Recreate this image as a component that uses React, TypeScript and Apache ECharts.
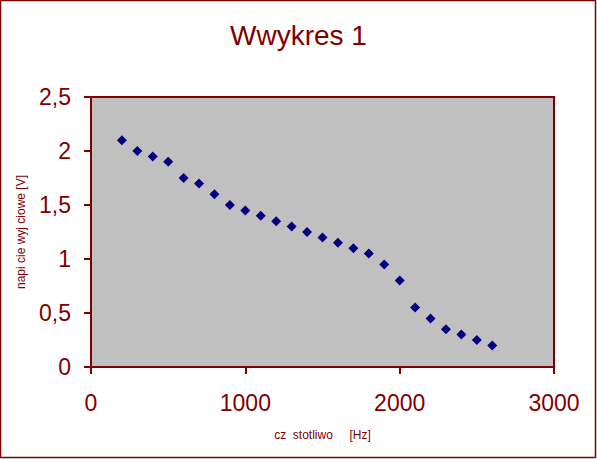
import React, { useEffect, useRef } from 'react';
import * as echarts from 'echarts';

const frequencies = [
  200, 300, 400, 500, 600, 700, 800, 900, 1000, 1100, 1200, 1300, 1400,
  1500, 1600, 1700, 1800, 1900, 2000, 2100, 2200, 2300, 2400, 2500, 2600,
];
const voltages = [
  2.1, 2.0, 1.95, 1.9, 1.75, 1.7, 1.6, 1.5, 1.45, 1.4, 1.35, 1.3, 1.25,
  1.2, 1.15, 1.1, 1.05, 0.95, 0.8, 0.55, 0.45, 0.35, 0.3, 0.25, 0.2,
];

const chartTitle = 'Wwykres 1';
const xAxisName = 'cz  stotliwo     [Hz]';
const yAxisName = 'napi cie wyj ciowe [V]';

const darkRed = '#800000';
const font = 'Liberation Sans, Arial, sans-serif';

export default function App() {
  const chartRef = useRef<HTMLDivElement>(null);

  useEffect(() => {
    document.body.style.margin = '0';
    if (!chartRef.current) return;
    const chart = echarts.init(chartRef.current, null, { renderer: 'svg' });

    chart.setOption({
      animation: false,
      backgroundColor: '#ffffff',
      textStyle: { fontFamily: font },
      title: {
        text: chartTitle,
        left: 'center',
        top: 16,
        textStyle: { color: darkRed, fontSize: 28, fontWeight: 'normal', fontFamily: font },
      },
      grid: {
        left: 91,
        right: 43,
        top: 97,
        bottom: 92,
        show: true,
        backgroundColor: '#c0c0c0',
        borderColor: darkRed,
        borderWidth: 2,
      },
      xAxis: {
        type: 'value',
        min: 0,
        max: 3000,
        interval: 1000,
        name: xAxisName,
        nameLocation: 'middle',
        nameGap: 62,
        nameTextStyle: { color: darkRed, fontSize: 12, fontFamily: font },
        axisLine: { show: true, lineStyle: { color: darkRed, width: 2 } },
        axisTick: { show: true, length: 7, lineStyle: { color: darkRed, width: 2 } },
        axisLabel: {
          color: darkRed,
          fontSize: 23,
          margin: 24,
          fontFamily: font,
          formatter: (v: number) => String(v),
        },
        splitLine: { show: false },
      },
      yAxis: {
        type: 'value',
        min: 0,
        max: 2.5,
        interval: 0.5,
        name: yAxisName,
        nameLocation: 'middle',
        nameGap: 64,
        nameRotate: 90,
        nameTextStyle: { color: darkRed, fontSize: 12, fontFamily: font },
        axisLine: { show: true, lineStyle: { color: darkRed, width: 2 } },
        axisTick: { show: true, length: 7, lineStyle: { color: darkRed, width: 2 } },
        axisLabel: {
          color: darkRed,
          fontSize: 23,
          margin: 20,
          fontFamily: font,
          formatter: (v: number) => String(v).replace('.', ','),
        },
        splitLine: { show: false },
      },
      series: [
        {
          type: 'scatter',
          symbol: 'diamond',
          symbolSize: 10,
          itemStyle: { color: '#000080', opacity: 1 },
          data: frequencies.map((f, i) => [f, voltages[i]]),
        },
      ],
      graphic: [
        {
          type: 'rect',
          shape: { x: 0.5, y: 0.5, width: 595, height: 457 },
          style: { fill: 'none', stroke: darkRed, lineWidth: 1.5 },
          silent: true,
        },
      ],
    });

    return () => {
      chart.dispose();
    };
  }, []);

  return <div ref={chartRef} style={{ width: 597, height: 459 }} />;
}
